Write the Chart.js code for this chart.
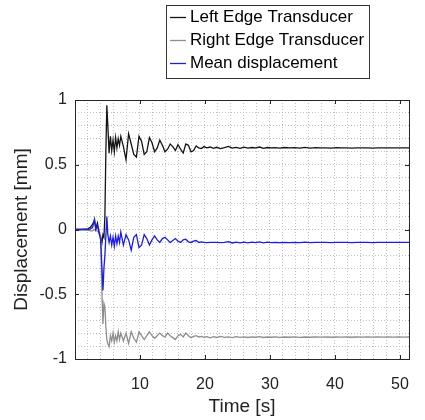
<!DOCTYPE html>
<html>
<head>
<meta charset="utf-8">
<title>Displacement</title>
<script src="https://cdn.jsdelivr.net/npm/chart.js@4.4.1/dist/chart.umd.min.js"></script>
<style>
  body { margin: 0; background: #fff; }
  #wrap { width: 425px; height: 420px; }
</style>
</head>
<body>
<div id="wrap"><canvas id="chart" width="425" height="420"></canvas></div>
<script>
// time [s]
const time = [
  0, 1, 2, 2.4, 2.7, 3.0, 3.2, 3.45, 3.7, 3.95,
  4.15, 4.3, 4.45, 4.6, 4.75, 4.9, 5.05, 5.25, 5.45, 5.65,
  5.85, 6.05, 6.25, 6.45, 6.65, 6.85,
  7.05, 7.45, 7.85, 8.25, 8.65, 9.05, 9.45, 9.85, 10.25, 10.65, 11.05,
  11.45, 11.85, 12.25, 12.65, 13.05, 13.45, 13.85, 14.25, 14.65, 15.05, 15.45,
  15.85, 16.25, 16.65, 17.05, 17.45, 17.85, 18.25, 18.65, 19.05, 19.45, 19.85,
  20.3, 20.8, 21.3, 21.8, 22.4, 23.0, 23.6, 24.2,
  24.8, 25.4, 26.0, 26.6, 27.2, 27.8, 28.4, 29.0, 29.6, 30.2,
  30.8, 31.5, 32.2, 33.0, 33.8, 34.6, 35.4, 36.2, 37.0, 37.8,
  38.6, 39.4, 40.2, 41.0, 41.8, 42.6, 43.4, 44.2, 45.0, 45.8,
  46.6, 47.4, 48.2, 49.0, 49.8, 50.6, 51.4
];

// displacement [mm]
const leftEdge = [
  0, 0, 0.005, 0.02, 0.04, 0.07, 0.01, 0.05, -0.02, -0.06,
  -0.1, -0.04, -0.06, 0.1, 0.6, 0.96, 0.8, 0.59, 0.72, 0.61,
  0.69, 0.6, 0.71, 0.63, 0.7, 0.65,
  0.72, 0.64, 0.54, 0.74, 0.66, 0.58, 0.56, 0.72, 0.68, 0.58, 0.6,
  0.71, 0.67, 0.6, 0.63, 0.69, 0.65, 0.6, 0.62, 0.66, 0.64, 0.61,
  0.655, 0.62, 0.59, 0.66, 0.65, 0.6, 0.61, 0.645, 0.63, 0.625, 0.64,
  0.63, 0.637, 0.627, 0.635, 0.625, 0.632, 0.642, 0.628,
  0.634, 0.626, 0.636, 0.628, 0.633, 0.63, 0.637, 0.627, 0.633, 0.63,
  0.632, 0.629, 0.633, 0.63, 0.632, 0.628, 0.634, 0.629, 0.632, 0.63,
  0.631, 0.629, 0.632, 0.63, 0.631, 0.629, 0.631, 0.63, 0.631, 0.629,
  0.631, 0.63, 0.631, 0.63, 0.631, 0.63, 0.63
];

const rightEdge = [
  0, 0, -0.005, -0.01, -0.01, 0.0, -0.01, -0.01, -0.03, -0.05,
  -0.5, -0.73, -0.57, -0.6, -0.75, -0.85, -0.88, -0.905, -0.82, -0.86,
  -0.8, -0.87, -0.82, -0.86, -0.79, -0.85,
  -0.8, -0.86, -0.8, -0.88, -0.79, -0.84, -0.87, -0.79, -0.82, -0.85, -0.82,
  -0.79, -0.82, -0.84, -0.82, -0.8, -0.82, -0.83, -0.8, -0.82, -0.835, -0.85,
  -0.82, -0.81, -0.83, -0.8, -0.82, -0.835, -0.825, -0.82, -0.83, -0.825, -0.832,
  -0.827, -0.836, -0.828, -0.834, -0.826, -0.833, -0.829, -0.835,
  -0.828, -0.833, -0.829, -0.834, -0.829, -0.832, -0.828, -0.834, -0.83, -0.832,
  -0.829, -0.833, -0.83, -0.832, -0.829, -0.833, -0.83, -0.832, -0.83, -0.831,
  -0.83, -0.832, -0.83, -0.831, -0.83, -0.832, -0.83, -0.831, -0.83, -0.831,
  -0.83, -0.831, -0.83, -0.831, -0.83, -0.831, -0.83
];

const meanDisp = [
  0, 0, 0, 0.005, 0.015, 0.08, 0.0, 0.03, -0.025, -0.08,
  -0.3, -0.47, -0.3, -0.2, -0.05, 0.1, -0.04, -0.1, -0.05, -0.12,
  -0.06, -0.13, -0.05, -0.11, -0.05, -0.1,
  -0.02, -0.12, -0.04, -0.08, -0.16, -0.06, -0.04, -0.14, -0.12, -0.04, -0.07,
  -0.12, -0.08, -0.05, -0.08, -0.1, -0.07, -0.06, -0.08, -0.1, -0.085, -0.07,
  -0.09, -0.1, -0.08, -0.075, -0.095, -0.1, -0.09, -0.085, -0.1, -0.095, -0.1,
  -0.102, -0.1, -0.1, -0.1, -0.101, -0.1, -0.094, -0.104,
  -0.097, -0.103, -0.097, -0.103, -0.098, -0.101, -0.096, -0.103, -0.098, -0.101,
  -0.099, -0.102, -0.099, -0.101, -0.099, -0.102, -0.098, -0.101, -0.099, -0.1,
  -0.1, -0.101, -0.099, -0.1, -0.1, -0.101, -0.1, -0.1, -0.1, -0.101,
  -0.1, -0.1, -0.1, -0.1, -0.1, -0.1, -0.1
];

const seriesNames = ["Left Edge Transducer", "Right Edge Transducer", "Mean displacement"];
const seriesColors = ["#151515", "#8e8e8e", "#1c1ce8"];
const xMajorTicks = [10, 20, 30, 40, 50];
const yMajorTicks = [-1, -0.5, 0, 0.5, 1];

const FONT = "'Liberation Sans', Arial, Helvetica, sans-serif";

function toPoints(ys) {
  return ys.map((y, i) => ({ x: time[i], y: y }));
}

function isMultiple(v, step) {
  const r = v / step;
  return Math.abs(r - Math.round(r)) < 1e-6;
}

// box around the axes + inward tick marks (matlab style)
const axesBox = {
  id: "axesBox",
  afterDatasetsDraw(chart) {
    const { ctx, chartArea: a, scales } = chart;
    ctx.save();
    ctx.strokeStyle = "#262626";
    ctx.lineWidth = 1;
    ctx.beginPath();
    xMajorTicks.forEach((v) => {
      const px = Math.round(scales.x.getPixelForValue(v)) + 0.5;
      ctx.moveTo(px, a.bottom); ctx.lineTo(px, a.bottom - 4);
      ctx.moveTo(px, a.top); ctx.lineTo(px, a.top + 4);
    });
    yMajorTicks.forEach((v) => {
      const py = Math.round(scales.y.getPixelForValue(v)) + 0.5;
      ctx.moveTo(a.left, py); ctx.lineTo(a.left + 4, py);
      ctx.moveTo(a.right, py); ctx.lineTo(a.right - 4, py);
    });
    ctx.stroke();
    ctx.strokeRect(Math.round(a.left) + 0.5, Math.round(a.top) + 0.5,
      Math.round(a.right - a.left), Math.round(a.bottom - a.top));
    ctx.restore();
  }
};

// legend box above the axes
const boxLegend = {
  id: "boxLegend",
  afterDraw(chart) {
    const ctx = chart.ctx;
    ctx.save();
    ctx.fillStyle = "#fff";
    ctx.fillRect(166, 5, 203, 73);
    ctx.strokeStyle = "#333";
    ctx.lineWidth = 1;
    ctx.strokeRect(166.5, 5.5, 203, 73);
    ctx.font = "17px " + FONT;
    ctx.textBaseline = "middle";
    chart.data.datasets.forEach((ds, i) => {
      const y = 17.5 + i * 23;
      ctx.strokeStyle = ds.borderColor;
      ctx.lineWidth = 1.3;
      ctx.beginPath();
      ctx.moveTo(170, y); ctx.lineTo(186, y);
      ctx.stroke();
      ctx.fillStyle = "#000";
      ctx.fillText(ds.label, 190, y);
    });
    ctx.restore();
  }
};

const datasets = [leftEdge, rightEdge, meanDisp].map((ys, i) => ({
  label: seriesNames[i],
  data: toPoints(ys),
  borderColor: seriesColors[i],
  borderWidth: 1.3,
  pointRadius: 0,
  tension: 0,
  order: 3 - i,
}));

new Chart(document.getElementById("chart"), {
  type: "line",
  data: { datasets },
  options: {
    responsive: false,
    animation: false,
    layout: { padding: { top: 100, right: 7, bottom: 0, left: 0 } },
    plugins: {
      legend: { display: false },
      tooltip: { enabled: false },
    },
    scales: {
      x: {
        type: "linear",
        min: 0,
        max: 51.4,
        afterFit: (s) => { s.height = 61; },
        grid: {
          color: "#c2c2c2",
          lineWidth: 1,
          drawTicks: false,
        },
        border: { display: false, dash: [1, 2] },
        ticks: {
          stepSize: 2,
          includeBounds: false,
          autoSkip: false,
          maxRotation: 0,
          padding: 16,
          color: "#222",
          font: { family: FONT, size: 16 },
          callback: (v) => (v !== 0 && isMultiple(v, 10) ? String(Math.round(v)) : ""),
        },
        title: {
          display: true,
          text: "Time [s]",
          color: "#222",
          font: { family: FONT, size: 19 },
          padding: { top: 0, bottom: 2 },
        },
      },
      y: {
        min: -1,
        max: 1,
        afterFit: (s) => { s.width = 75; },
        grid: {
          color: "#c2c2c2",
          lineWidth: 1,
          drawTicks: false,
        },
        border: { display: false, dash: [1, 2] },
        ticks: {
          stepSize: 0.1,
          autoSkip: false,
          padding: 8,
          color: "#222",
          font: { family: FONT, size: 16 },
          callback: (v) => (isMultiple(v, 0.5) ? String(Math.round(v * 2) / 2) : ""),
        },
        title: {
          display: true,
          text: "Displacement [mm]",
          color: "#222",
          font: { family: FONT, size: 19 },
          padding: { top: 10, bottom: 0 },
        },
      },
    },
  },
  plugins: [axesBox, boxLegend],
});
</script>
</body>
</html>
